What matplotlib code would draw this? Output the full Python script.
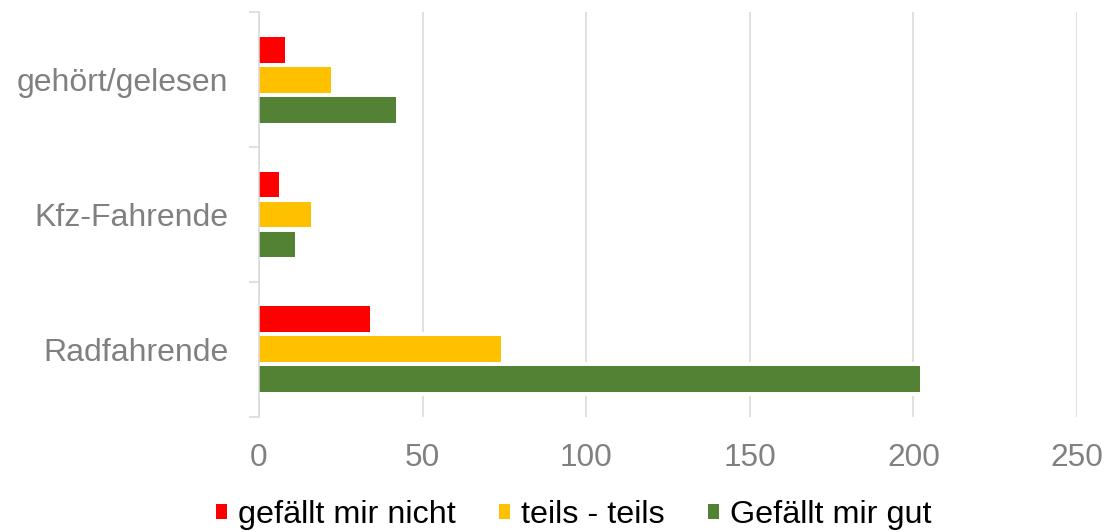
import numpy as np
import matplotlib
matplotlib.use('Agg')
import matplotlib.pyplot as plt
from matplotlib.patches import Patch

# data
categories = ['Radfahrende', 'Kfz-Fahrende', 'gehört/gelesen']
series_names = ['gefällt mir nicht', 'teils - teils', 'Gefällt mir gut']
nicht = [34, 6, 8]
teils = [74, 16, 22]
gut = [202, 11, 42]
xticks = [0, 50, 100, 150, 200, 250]

colors = ['#FF0000', '#FFC000', '#548235']

plt.rcParams['font.family'] = ['Liberation Sans', 'DejaVu Sans']

fig = plt.figure(figsize=(11.09, 5.32), dpi=100)
ax = fig.add_axes([259 / 1109, 1 - 416.7 / 532, (1077 - 259) / 1109, 404.4 / 532])

y = np.arange(len(categories))
slot = 30 / 135
bar_h = 25.8 / 135

# red on top, yellow middle, green at the bottom of each group
for vals, off, c in zip([nicht, teils, gut], [slot, 0, -slot], colors):
    # white halo behind the bar hides the gridlines, like the outline in the original
    ax.barh(y + off, vals, height=slot + 4 / 135, color='white', zorder=1.5)
    ax.barh(y + off, vals, height=bar_h, color=c, zorder=2)

ax.set_xlim(0, 250)
ax.set_ylim(-0.5, len(categories) - 0.5)
ax.set_xticks(xticks)
ax.set_xticklabels([str(v) for v in xticks])
ax.set_yticks(y)
ax.set_yticklabels(categories)
ax.set_yticks(np.arange(len(categories) + 1) - 0.5, minor=True)

ax.set_axisbelow(True)
ax.grid(axis='x', color='#D9D9D9', linewidth=1.1, zorder=0.5)

for s in ['top', 'right', 'bottom']:
    ax.spines[s].set_visible(False)
ax.spines['left'].set_color('#D9D9D9')
ax.spines['left'].set_linewidth(1.1)

ax.tick_params(axis='x', length=0, pad=19, labelsize=22.8, labelcolor='#808080')
ax.tick_params(axis='y', which='major', length=0, pad=22, labelsize=23, labelcolor='#808080')
ax.tick_params(axis='y', which='minor', length=7.5, width=1.1, color='#D9D9D9')

handles = [Patch(facecolor=c, edgecolor='none') for c in colors]
fig.legend(handles, series_names, loc='center', bbox_to_anchor=(574 / 1109, 0.032),
           ncol=3, frameon=False, fontsize=23.3, handlelength=0.32, handleheight=0.32,
           handletextpad=0.35, columnspacing=1.35, borderpad=0, labelcolor='black')

fig.savefig('out.png', dpi=100)
